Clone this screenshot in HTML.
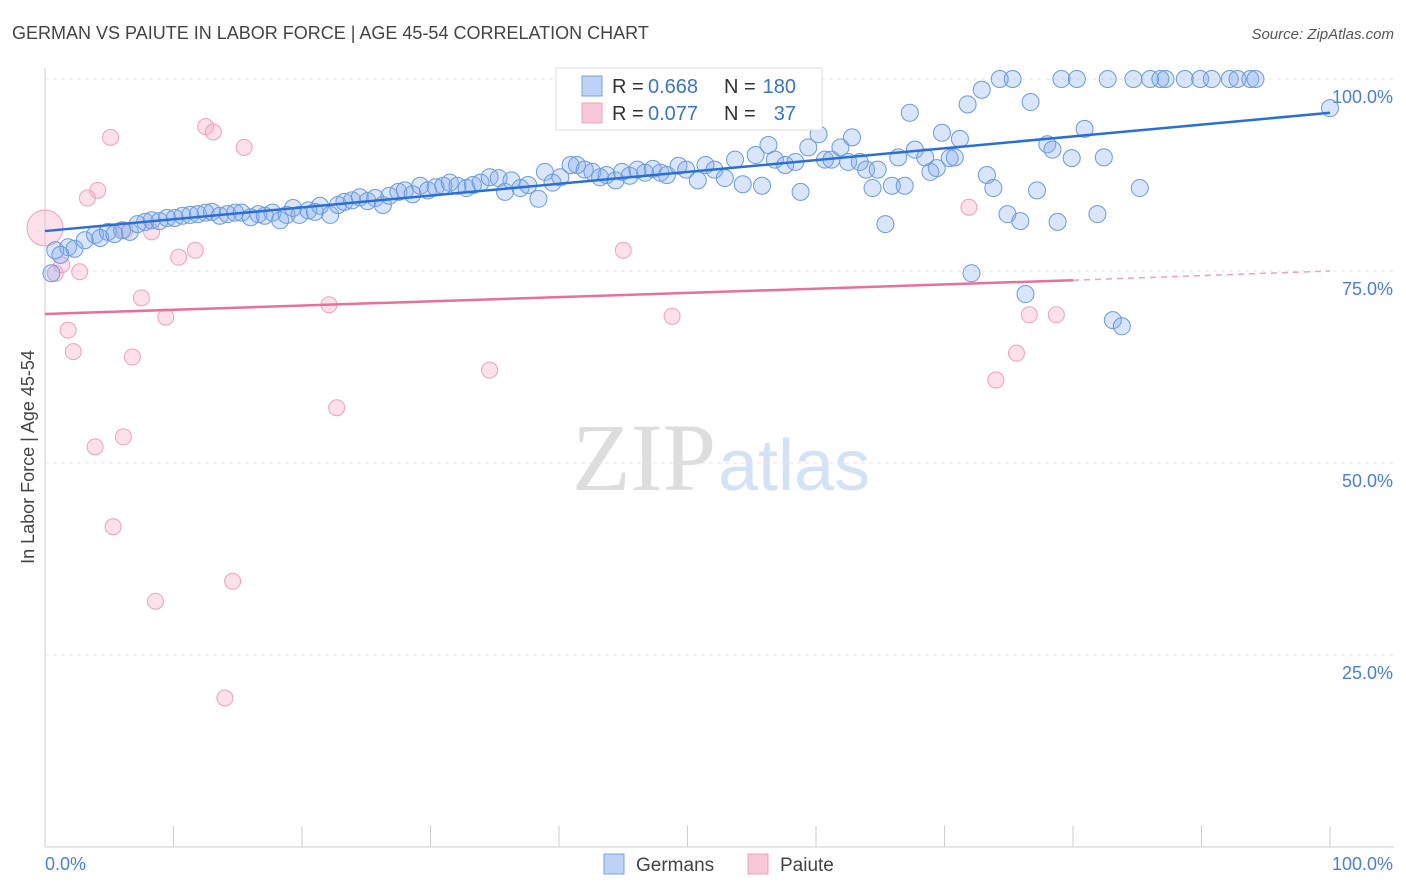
<!DOCTYPE html>
<html><head><meta charset="utf-8">
<style>
body{margin:0;background:#fff;font-family:"Liberation Sans",sans-serif;}
svg{display:block}
</style></head>
<body>
<svg width="1406" height="892" viewBox="0 0 1406 892" xmlns="http://www.w3.org/2000/svg" id="chart">
<text x="12" y="39" font-size="18" fill="#444">GERMAN VS PAIUTE IN LABOR FORCE | AGE 45-54 CORRELATION CHART</text>
<text x="1394" y="39" font-size="15" fill="#555" text-anchor="end" font-style="italic">Source: ZipAtlas.com</text>
<text x="716" y="490" font-size="96" fill="#ddd" text-anchor="end" font-family="Liberation Serif">ZIP</text>
<text x="718" y="490" font-size="72" fill="#d4e2f5">atlas</text>
<text transform="translate(34,457) rotate(-90)" font-size="18" fill="#444" text-anchor="middle">In Labor Force | Age 45-54</text>
<g id="grid"></g>
<g id="marks"></g>
<g id="trends"></g>
<g>
<rect x="556" y="68" width="266" height="62" fill="#fff" stroke="#ddd"/>
<rect x="582" y="76" width="20" height="20" fill="#bcd3f5" stroke="#7aa3e0"/>
<rect x="582" y="103" width="20" height="20" fill="#f9c8d8" stroke="#f0a0bc"/>
<text x="612" y="93" font-size="20" fill="#333">R =</text>
<text x="648" y="93" font-size="20" fill="#3a73d0">0.668</text>
<text x="724" y="93" font-size="20" fill="#333">N =</text>
<text x="796" y="93" font-size="20" fill="#3a73d0" text-anchor="end">180</text>
<text x="612" y="120" font-size="20" fill="#333">R =</text>
<text x="648" y="120" font-size="20" fill="#3a73d0">0.077</text>
<text x="724" y="120" font-size="20" fill="#333">N =</text>
<text x="796" y="120" font-size="20" fill="#3a73d0" text-anchor="end">37</text>
</g>
<g>
<rect x="604" y="854" width="20" height="20" fill="#bcd3f5" stroke="#7aa3e0"/>
<text x="636" y="871" font-size="19" fill="#444">Germans</text>
<rect x="748" y="854" width="20" height="20" fill="#f9c8d8" stroke="#f0a0bc"/>
<text x="780" y="871" font-size="19" fill="#444">Paiute</text>
</g>
</svg>
<script>
const yTicks=[25,50,75,100];
const yTickLabels=["25.0%","50.0%","75.0%","100.0%"];
const xTicks=[0,10,20,30,40,50,60,70,80,90,100];
const blueX=[0.8,1.8,2.3,1.2,0.5,3.1,3.9,4.3,4.9,5.4,6.0,6.6,7.2,7.8,8.3,8.9,9.5,10.1,10.7,11.3,11.9,12.5,13.0,13.6,14.2,14.8,15.3,16.0,16.6,17.1,17.7,18.3,18.8,19.3,19.8,20.5,21.0,21.4,22.2,22.8,23.3,23.9,24.5,25.1,25.7,26.3,26.8,27.5,28.0,28.6,29.2,29.8,30.4,31.0,31.5,32.1,32.8,33.3,33.9,34.6,35.3,35.8,36.3,37.0,37.6,38.4,38.9,39.5,40.1,40.9,41.4,42.0,42.6,43.2,43.7,44.4,44.9,45.5,46.1,46.7,47.3,47.9,48.4,49.3,49.9,50.8,51.4,52.1,52.9,53.7,54.3,55.3,55.8,56.3,56.8,57.6,58.4,58.8,59.4,60.2,60.7,61.2,61.9,62.5,62.8,63.4,63.9,64.4,64.8,65.4,65.9,66.4,66.9,67.3,67.7,68.5,68.9,69.4,69.8,70.4,70.8,71.2,71.8,72.1,72.9,73.3,73.8,74.3,74.9,75.3,75.9,76.3,76.7,77.2,78.0,78.4,78.8,79.1,79.9,80.3,80.9,81.9,82.4,82.7,83.1,83.8,84.7,85.2,86.0,86.8,87.2,88.7,89.9,90.8,92.2,92.8,93.8,94.2,100];
const blueY=[77.7,78.1,77.9,77.1,74.7,79.0,79.7,79.3,80.1,79.8,80.3,80.1,81.1,81.4,81.6,81.5,81.9,81.9,82.2,82.3,82.4,82.6,82.7,82.2,82.4,82.6,82.6,82.0,82.4,82.2,82.6,81.6,82.3,83.2,82.3,82.9,82.7,83.5,82.3,83.6,84.0,84.2,84.6,84.1,84.5,83.6,84.8,85.3,85.5,85.0,86.1,85.5,85.9,86.1,86.5,86.1,85.8,86.2,86.5,87.2,87.1,85.3,86.8,85.8,86.2,84.4,87.9,86.5,87.2,88.8,88.8,88.2,87.9,87.2,87.5,86.8,87.9,87.4,88.2,87.8,88.3,87.8,87.5,88.7,88.2,86.8,88.8,88.2,87.1,89.5,86.3,90.1,86.1,91.4,89.5,88.8,89.2,85.3,91.1,92.8,89.5,89.5,91.1,89.2,92.4,89.2,88.2,85.8,88.2,81.1,86.1,89.8,86.1,95.6,90.8,89.8,87.9,88.4,93.0,89.7,89.8,92.2,96.7,74.7,98.6,87.5,85.8,100,82.4,100,81.5,72.0,97.0,85.5,91.5,90.8,81.4,100,89.7,100,93.5,82.4,89.8,100,68.6,67.8,100,85.8,100,100,100,100,100,100,100,100,100,100,96.2];
const pinkX=[0.8,1.3,1.8,2.2,2.7,3.3,4.1,3.9,5.1,5.3,6.1,6.8,7.5,8.3,8.6,9.4,10.4,11.7,12.5,13.1,14.0,14.6,15.5,22.1,22.7,34.6,45.0,47.6,48.8,71.9,74.0,75.6,76.6,78.7,6.2];
const pinkY=[74.7,75.8,67.3,64.5,74.9,84.5,85.5,52.1,92.4,41.7,53.4,63.8,71.5,80.1,32.0,69.0,76.8,77.7,93.8,93.1,19.4,34.6,91.1,70.6,57.2,62.1,77.7,100,69.1,83.3,60.8,64.3,69.3,69.3,80.3];
const blueTrend=[[0,80.2],[100,95.6]];
const pinkTrend=[[0,69.4],[80,73.8],[100,75.0]];
const X0=45,X1=1330,Y0=847,Y100=79;
const sx=v=>X0+(X1-X0)*v/100, sy=v=>Y0-(Y0-Y100)*v/100;
const NS="http://www.w3.org/2000/svg";
function mk(t,a,p){const e=document.createElementNS(NS,t);for(const k in a)e.setAttribute(k,a[k]);p.appendChild(e);return e;}
const grid=document.getElementById('grid');
yTicks.forEach((t,i)=>{
 const l=mk('line',{x1:X0,x2:1394,y1:sy(t),y2:sy(t),stroke:'#e4e4e4','stroke-dasharray':'4,4'},grid);
 
 
 const tx=mk('text',{x:1393,y:sy(t)+24,'font-size':18,fill:'#4a7fd4','text-anchor':'end'},grid);
 tx.textContent=yTickLabels[i];
 
 
});
const ax=mk('line',{x1:X0,x2:1394,y1:Y0,y2:Y0,stroke:'#ccc'},grid);


const ay=mk('line',{x1:X0,x2:X0,y1:68,y2:Y0,stroke:'#ccc'},grid);


xTicks.forEach(t=>{const l=mk('line',{x1:sx(t),x2:sx(t),y1:826,y2:Y0,stroke:'#ccc'},grid);
 
 });
const xl=mk('text',{x:45,y:870,'font-size':18,fill:'#4a7fd4'},grid);xl.textContent='0.0%';


const xr=mk('text',{x:1393,y:870,'font-size':18,fill:'#4a7fd4','text-anchor':'end'},grid);xr.textContent='100.0%';


const marks=document.getElementById('marks');
pinkX.forEach((x,i)=>{const c=mk('circle',{cx:sx(x),cy:sy(pinkY[i]),r:8,fill:'rgba(245,170,195,0.35)',stroke:'#f0a0bc','stroke-width':1},marks);
 
 });
const big=mk('circle',{cx:sx(0),cy:sy(80.6),r:18,fill:'rgba(245,170,195,0.35)',stroke:'#f0a0bc'},marks);


blueX.forEach((x,i)=>{const c=mk('circle',{cx:sx(x),cy:sy(blueY[i]),r:8.5,fill:'rgba(130,170,235,0.3)',stroke:'#6a9ae0','stroke-width':1},marks);
 
 });
const tr=document.getElementById('trends');
const bl=mk('line',{x1:sx(blueTrend[0][0]),y1:sy(blueTrend[0][1]),x2:sx(blueTrend[1][0]),y2:sy(blueTrend[1][1]),stroke:'#2a6fd6','stroke-width':2.5},tr);


const pl=mk('line',{x1:sx(pinkTrend[0][0]),y1:sy(pinkTrend[0][1]),x2:sx(pinkTrend[1][0]),y2:sy(pinkTrend[1][1]),stroke:'#e8709a','stroke-width':2.5},tr);


const pd=mk('line',{x1:sx(pinkTrend[1][0]),y1:sy(pinkTrend[1][1]),x2:sx(pinkTrend[2][0]),y2:sy(pinkTrend[2][1]),stroke:'#f0a0bc','stroke-width':1.5,'stroke-dasharray':'6,5'},tr);


</script>
</body></html>
